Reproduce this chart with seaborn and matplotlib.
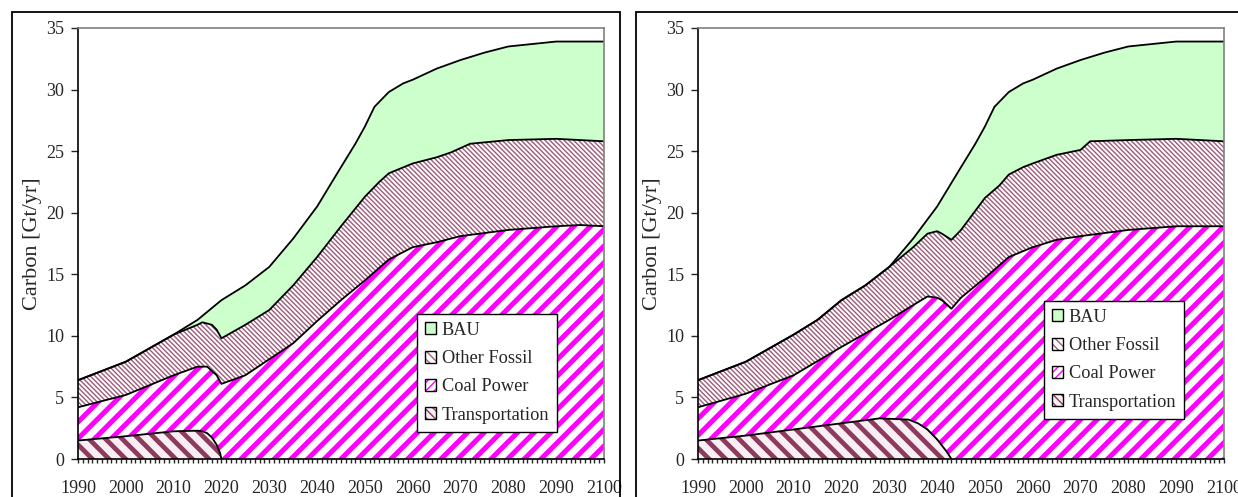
import matplotlib
matplotlib.use("Agg")
import matplotlib.pyplot as plt
import seaborn as sns
import pandas as pd
from matplotlib.patches import Patch, Rectangle
from matplotlib.legend_handler import HandlerTuple

# ---- data (Gt carbon / yr, cumulative stack tops) ----
bau_years = [1990, 2000, 2010, 2015, 2020, 2025, 2030, 2035, 2040, 2045, 2048,
             2050, 2052, 2055, 2058, 2060, 2065, 2070, 2075, 2080, 2085, 2090, 2100]
bau = [6.4, 7.9, 10.1, 11.3, 12.9, 14.1, 15.6, 17.9, 20.5, 23.7, 25.6,
       27.0, 28.6, 29.8, 30.5, 30.8, 31.7, 32.4, 33.0, 33.5, 33.7, 33.9, 33.9]

# left panel: phase-out around 2020
of_years_a = [1990, 2000, 2010, 2015, 2016, 2018, 2019, 2020, 2025, 2030, 2035, 2040,
              2045, 2050, 2053, 2055, 2060, 2065, 2068, 2072, 2080, 2090, 2100]
of_a = [6.4, 7.9, 10.1, 10.9, 11.1, 10.9, 10.5, 9.8, 10.9, 12.1, 14.1, 16.4,
        18.9, 21.3, 22.5, 23.2, 24.0, 24.5, 24.9, 25.6, 25.9, 26.0, 25.8]
coal_years_a = [1990, 2000, 2010, 2015, 2017, 2019, 2020, 2025, 2030, 2035, 2040,
                2045, 2050, 2055, 2060, 2065, 2070, 2080, 2090, 2095, 2100]
coal_a = [4.2, 5.2, 6.8, 7.5, 7.5, 6.8, 6.1, 6.8, 8.1, 9.4, 11.2,
          12.9, 14.5, 16.2, 17.2, 17.6, 18.1, 18.6, 18.9, 19.0, 18.9]
tr_years_a = [1990, 2000, 2010, 2015, 2016, 2017, 2018, 2019, 2019.7, 2020]
tr_a = [1.5, 1.85, 2.25, 2.3, 2.25, 2.1, 1.75, 1.15, 0.5, 0.0]

# right panel: phase-out around 2043
of_years_b = [1990, 2000, 2010, 2015, 2020, 2025, 2029, 2030, 2035, 2038, 2040, 2041,
              2043, 2045, 2050, 2053, 2055, 2058, 2060, 2065, 2070, 2072, 2080, 2090, 2100]
of_b = [6.4, 7.9, 10.1, 11.3, 12.9, 14.1, 15.3, 15.6, 17.2, 18.3, 18.5, 18.3,
        17.8, 18.6, 21.2, 22.2, 23.1, 23.7, 24.0, 24.7, 25.1, 25.8, 25.9, 26.0, 25.8]
coal_years_b = [1990, 2000, 2010, 2020, 2025, 2030, 2035, 2038, 2040, 2041, 2043,
                2045, 2050, 2055, 2060, 2065, 2070, 2080, 2090, 2100]
coal_b = [4.2, 5.3, 6.8, 9.1, 10.2, 11.3, 12.5, 13.2, 13.1, 12.9, 12.2,
          13.1, 14.7, 16.4, 17.2, 17.8, 18.1, 18.6, 18.9, 18.9]
tr_years_b = [1990, 2000, 2010, 2020, 2028, 2034, 2036, 2038, 2040, 2042, 2043]
tr_b = [1.5, 1.9, 2.4, 2.9, 3.3, 3.2, 2.9, 2.4, 1.6, 0.6, 0.0]

labels = ["BAU", "Other Fossil", "Coal Power", "Transportation"]

# style per layer: face, hatch colour, hatch, hatch linewidth
styles = {
    "BAU": ("#ccffcc", "#ccffcc", None, 1.0),
    "Other Fossil": ("white", "#a0607f", "\\" * 7, 1.05),
    "Coal Power": ("white", "#ff00ff", "//", 3.6),
    "Transportation": ("#f8eef3", "#8c3a5e", "\\\\", 3.4),
}

sns.set_style("ticks")
plt.rcParams["font.family"] = ["Liberation Serif", "DejaVu Serif"]

W, H = 1238, 497
fig = plt.figure(figsize=(W / 100, H / 100), dpi=100)

panels = [
    (78, [(bau_years, bau), (of_years_a, of_a), (coal_years_a, coal_a), (tr_years_a, tr_a)],
     (417, 314)),
    (698, [(bau_years, bau), (of_years_b, of_b), (coal_years_b, coal_b), (tr_years_b, tr_b)],
     (1044, 301)),
]

# outer frames of the two panels
fig.add_artist(Rectangle((12 / W, -0.1), (620 - 12) / W, (H - 12) / H + 0.1,
                         transform=fig.transFigure, fill=False, ec="black", lw=1.3))
fig.add_artist(Rectangle((636 / W, -0.1), 0.6, (H - 12) / H + 0.1,
                         transform=fig.transFigure, fill=False, ec="black", lw=1.3))

for left, series, (lx, ly) in panels:
    ax = fig.add_axes([left / W, (H - 459) / H, 526 / W, (459 - 28) / H])

    handles = []
    for name, (xs, ys) in zip(labels, series):
        face, hc, hatch, hlw = styles[name]
        with plt.rc_context({"hatch.linewidth": hlw}):
            coll = ax.fill_between(xs, ys, 0, facecolor=face, edgecolor=hc,
                                   hatch=hatch, linewidth=0)
            if hasattr(coll, "set_hatch_linewidth"):
                coll.set_hatch_linewidth(hlw)
        leg_hatch = None if hatch is None else hatch[0] * 4
        with plt.rc_context({"hatch.linewidth": min(hlw, 1.2)}):
            hp = Patch(facecolor=face, edgecolor=hc, hatch=leg_hatch, linewidth=0)
            if hasattr(hp, "set_hatch_linewidth"):
                hp.set_hatch_linewidth(min(hlw, 1.2))
        outline = Patch(facecolor="none", edgecolor="black", linewidth=1.0)
        handles.append((hp, outline))

    for name, (xs, ys) in zip(labels, series):
        df = pd.DataFrame({"year": xs, "value": ys})
        sns.lineplot(data=df, x="year", y="value", color="black", linewidth=1.3,
                     estimator=None, sort=False, ax=ax)

    ax.set_xlim(1990, 2100)
    ax.set_ylim(0, 35)
    ax.set_xticks(range(1990, 2101, 10))
    ax.set_xticks(range(1990, 2101, 1), minor=True)
    ax.set_yticks(range(0, 36, 5))
    ax.tick_params(axis="x", which="both", direction="out", length=3, width=1,
                   pad=12, labelsize=13)
    ax.tick_params(axis="y", direction="out", length=5, width=1, pad=5, labelsize=13)
    ax.set_xlabel("")
    ax.set_ylabel("Carbon [Gt/yr]", fontsize=16)
    ax.yaxis.set_label_coords(-0.068, 0.5)
    for s in ["left", "bottom"]:
        ax.spines[s].set_color("black")
        ax.spines[s].set_linewidth(1.2)
    for s in ["top", "right"]:
        ax.spines[s].set_visible(True)
        ax.spines[s].set_color("#808080")
        ax.spines[s].set_linewidth(1.2)

    bx = (lx - left) / 526
    by = (459 - ly) / 431
    leg = ax.legend(handles, labels, handler_map={tuple: HandlerTuple(ndivide=1)},
                    loc="upper left", bbox_to_anchor=(bx, by), borderaxespad=0,
                    fontsize=13.2, handlelength=0.62, handleheight=0.62,
                    handletextpad=0.3, labelspacing=0.62, borderpad=0.42,
                    fancybox=False, framealpha=1, edgecolor="black")
    leg.get_frame().set_linewidth(1.0)

fig.savefig("out.png", dpi=100)
